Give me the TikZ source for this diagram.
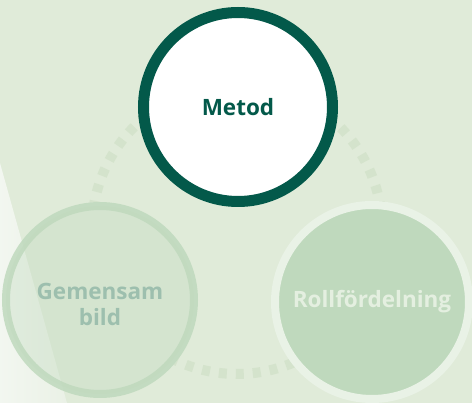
\documentclass[tikz,border=0pt]{standalone}
\usepackage{fontspec}
\setmainfont{Open Sans}
\usepackage{xcolor}
\definecolor{bgGreen}{HTML}{E0EBD9}
\definecolor{wedgeGreen}{HTML}{EAF1E6}
\definecolor{dashGreen}{HTML}{D4E3CC}
\definecolor{darkGreen}{HTML}{03594A}
\definecolor{paleGreen}{HTML}{BFD9BD}
\definecolor{ringLight}{HTML}{E9F2E6}
\definecolor{textGrey}{HTML}{9DBFAE}
\definecolor{textLight}{HTML}{E4EFE0}
\tikzset{
    ring/.style = {circle, inner sep=0pt, outer sep=0pt, align=center,
        font=\fontsize{22.5}{26}\selectfont\bfseries},
}

\begin{document}
\begin{tikzpicture}[x=1pt, y=-1pt]
    \fill[bgGreen] (0,0) rectangle (472,403);
    \useasboundingbox (0,0) rectangle (472,403);
    \draw[dashGreen, line width=10pt, dash pattern=on 8pt off 9pt] (237,229) circle (145);
    % hide the dashes behind the pale circle
    \fill[bgGreen] (100,300) circle (98);
    \shade[left color=wedgeGreen!60!white, right color=wedgeGreen] (0,163) -- (67,403) -- (0,403) -- cycle;
    \node[ring,
    minimum size=188pt,
    draw=paleGreen,
    draw opacity=0.85,
    line width=8pt,
    fill=paleGreen,
    fill opacity=0.35,
    label={[ring, text=textGrey, yshift=-4pt]center:Gemensam\\bild}] (gemensam) at (100,300) {};
    \node[ring,
    minimum size=194pt,
    draw=ringLight,
    line width=8pt,
    fill=paleGreen,
    text=textLight] (roll) at (372,302) {Rollfördelning};
    \node[ring,
    minimum size=189pt,
    draw=darkGreen,
    line width=11pt,
    fill=white,
    text=darkGreen] (metod) at (238,107) {Metod};
\end{tikzpicture}
\end{document}
